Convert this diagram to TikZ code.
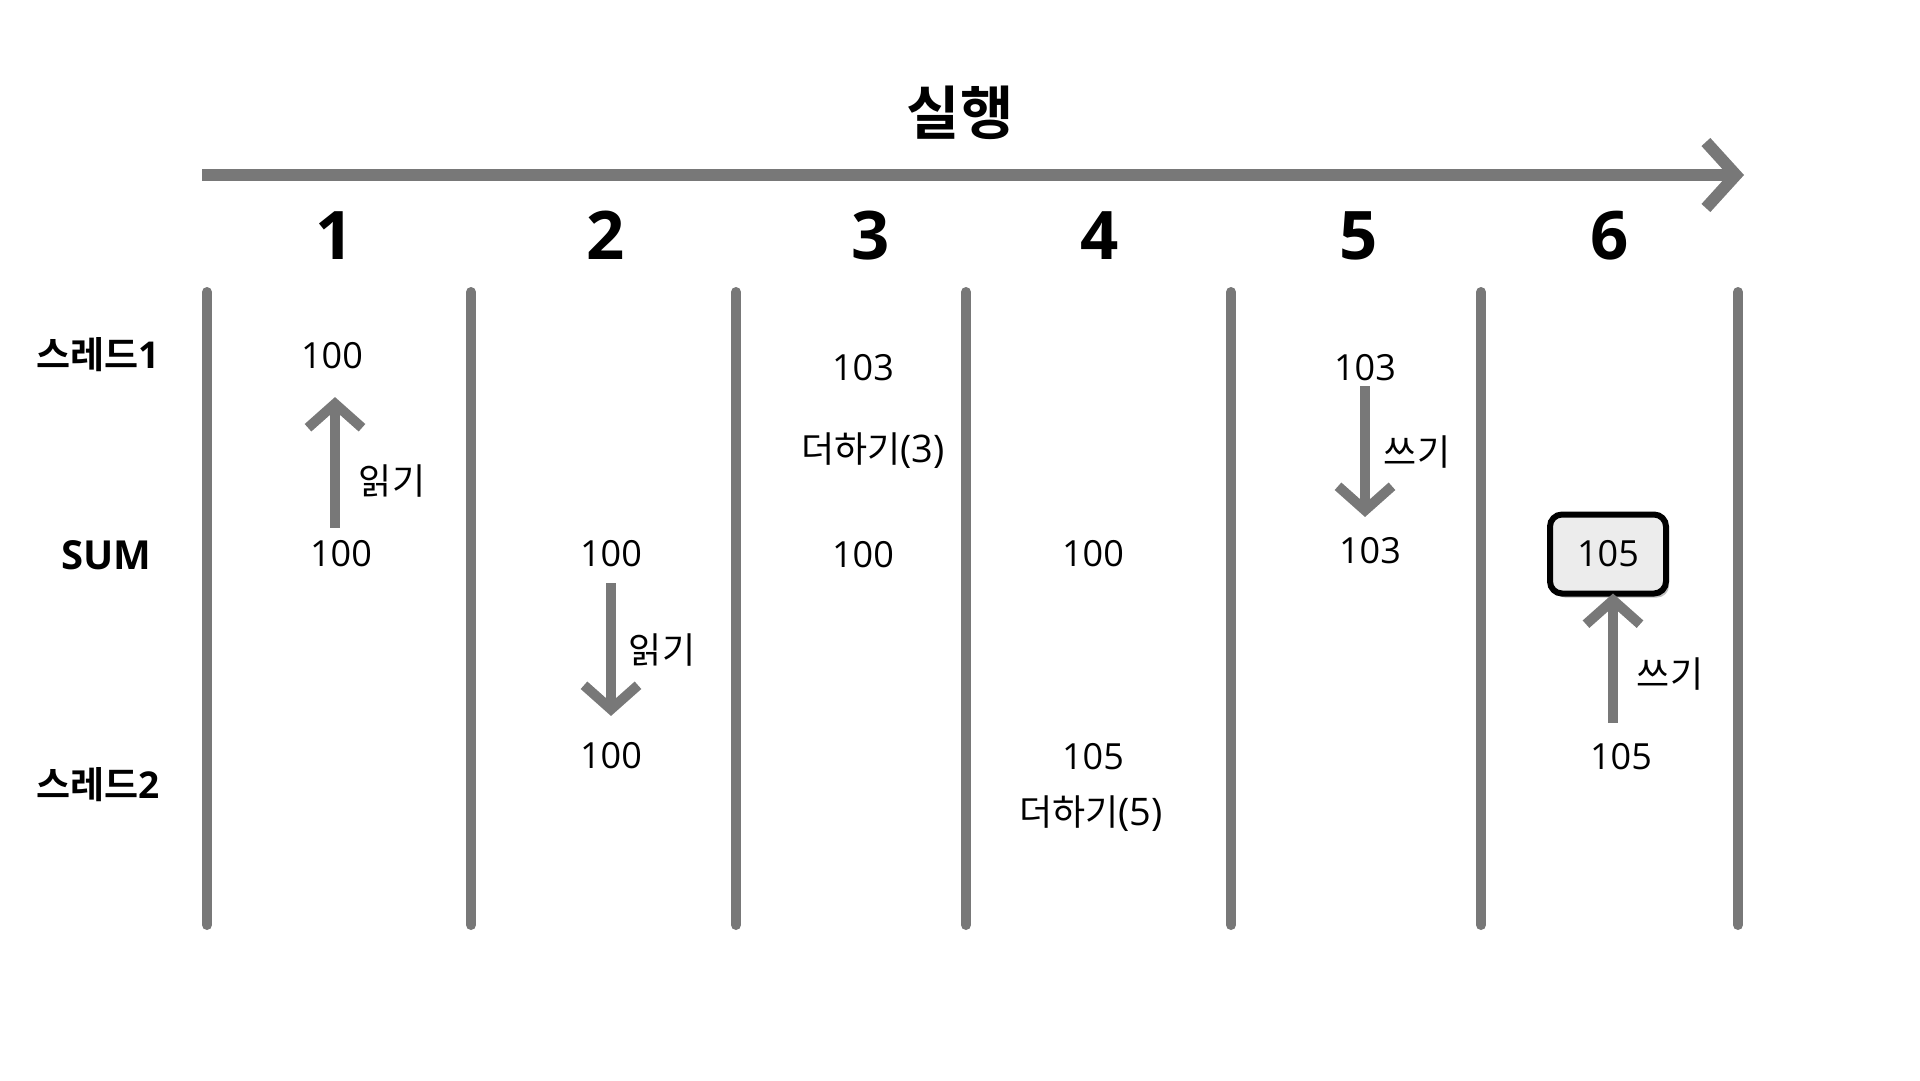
\documentclass[tikz,border=0pt]{standalone}
\usepackage{fontspec}
\setmainfont{Open Sans}
\newfontfamily\kr{Noto Sans CJK KR}[BoldFont={Noto Sans CJK KR Bold}]
\usetikzlibrary{arrows.meta,shadows}
\definecolor{barc}{RGB}{120,120,120}
\definecolor{boxfill}{RGB}{236,236,236}
\begin{document}
\begin{tikzpicture}[x=1pt,y=-1pt,
  vline/.style={line width=10pt, draw=barc, line cap=round},
  conn/.style={line width=10pt, draw=barc, -{Straight Barb[length=24pt,width=54pt]}},
  axisarrow/.style={line width=12pt, draw=barc, -{Straight Barb[length=30pt,width=66pt]}},
  val/.style={font=\fontsize{36}{40}\selectfont, inner sep=0pt, text height=25.7pt, text depth=0pt},
  lbl/.style={font=\kr\fontsize{36}{40}\selectfont, inner sep=0pt},
  rowlbl/.style={font=\kr\bfseries\fontsize{37}{42}\selectfont, inner sep=0pt},
  colnum/.style={font=\bfseries\fontsize{67}{70}\selectfont, inner sep=0pt, text height=47.8pt, text depth=0pt},
  titlelbl/.style={font=\kr\bfseries\fontsize{58}{62}\selectfont, inner sep=0pt},
  membox/.style={draw=black, line width=6pt, fill=boxfill, rounded corners=12pt,
    minimum width=116pt, minimum height=79pt, inner sep=0pt,
    font=\fontsize{36}{40}\selectfont, text height=25.7pt, text depth=0pt,
    drop shadow={shadow xshift=3pt, shadow yshift=-4pt, fill=black, opacity=0.25}}
]
\useasboundingbox (0,0) rectangle (1920,1080);

% title and time axis
\node[titlelbl] (title) at (960,113) {실행};
\coordinate (axs) at (202,175);
\coordinate (axe) at (1744,175);
\draw[axisarrow] (axs) -- (axe);

% column numbers
\node[colnum] (n1) at (335,236) {1};
\node[colnum] (n2) at (606,236) {2};
\node[colnum] (n3) at (871,236) {3};
\node[colnum] (n4) at (1100,236) {4};
\node[colnum] (n5) at (1359,236) {5};
\node[colnum] (n6) at (1610,236) {6};

% vertical separators
\foreach \x [count=\i] in {207,471,736,966,1231,1481,1738}{
  \coordinate (vt\i) at (\x,292);
  \coordinate (vb\i) at (\x,925);
  \draw[vline] (vt\i) -- (vb\i);
}

% row labels
\node[rowlbl] (r1) at (98,355) {스레드\textnormal{\bfseries\fontsize{37}{42}\selectfont 1}};
\node[font=\bfseries\fontsize{40}{44}\selectfont, inner sep=0pt] (r2) at (106,555) {SUM};
\node[rowlbl] (r3) at (98,785) {스레드\textnormal{\bfseries\fontsize{37}{42}\selectfont 2}};

% column 1
\node[val] (c1a) at (332,356) {100};
\node[val] (c1s) at (341,554) {100};
\node[lbl] (c1l) at (392,481) {읽기};
\draw[conn, shorten <=13pt, shorten >=28pt] ([xshift=3pt]c1a.south |- c1s.north) -- ([xshift=3pt]c1a.south);

% column 2
\node[val] (c2s) at (611,554) {100};
\node[val] (c2b) at (611,756) {100};
\node[lbl] (c2l) at (662,650) {읽기};
\draw[conn, shorten <=16pt, shorten >=27pt] (c2s.south) -- (c2b.north);

% column 3
\node[val] (c3a) at (863,368) {103};
\node[lbl] (c3l) at (873,451) {더하기\textnormal{\fontsize{38}{40}\selectfont(3)}};
\node[val] (c3s) at (863,555) {100};

% column 4
\node[val] (c4s) at (1093,554) {100};
\node[val] (c4b) at (1093,757) {105};
\node[lbl] (c4l) at (1091,814) {더하기\textnormal{\fontsize{38}{40}\selectfont(5)}};

% column 5
\node[val] (c5a) at (1365,368) {103};
\node[val] (c5s) at (1370,551) {103};
\node[lbl] (c5l) at (1417,452) {쓰기};
\draw[conn, shorten <=5pt, shorten >=21pt] (c5a.south) -- (c5a.south |- c5s.north);

% column 6
\node[membox] (c6s) at (1608,554) {105};
\node[val] (c6b) at (1621,757) {105};
\node[lbl] (c6l) at (1670,674) {쓰기};
\draw[conn, shorten <=21pt, shorten >=-3pt] ([xshift=5pt]c6s.south |- c6b.north) -- ([xshift=5pt]c6s.south);
\end{tikzpicture}
\end{document}
